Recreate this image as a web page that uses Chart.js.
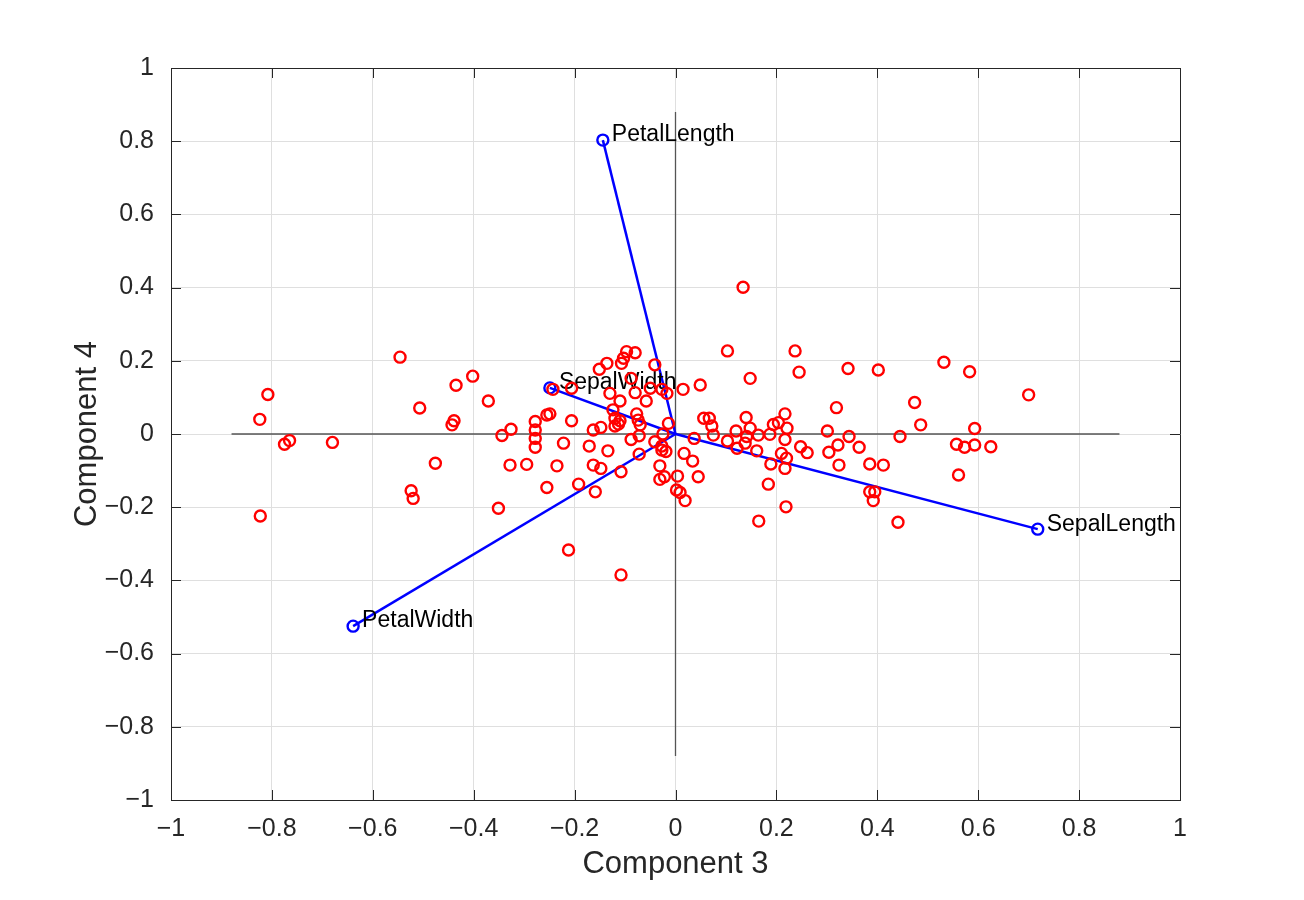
<!DOCTYPE html>
<html>
<head>
<meta charset="utf-8">
<script src="https://cdn.jsdelivr.net/npm/chart.js@4.4.1/dist/chart.umd.min.js"></script>
<style>
  body { margin: 0; background: #fff; }
  #wrap { width: 1304px; height: 900px; }
</style>
</head>
<body>
<div id="wrap"><canvas id="biplot" width="1304" height="900"></canvas></div>
<script>
// Observation scores (Component 3, Component 4)
const comp3 = [
  -0.546, -0.808, -0.824, -0.775, -0.765, -0.680, -0.823, -0.507, -0.435, -0.402,
  -0.371, -0.439, -0.443, -0.476, -0.524, -0.520, -0.351, -0.344, -0.326, -0.328,
  -0.295, -0.255, -0.235, -0.278, -0.278, -0.278, -0.278, -0.255, -0.249, -0.222,
  -0.206, -0.192, -0.212, -0.243, -0.206, -0.159, -0.163, -0.148, -0.171, -0.163,
  -0.148, -0.134, -0.108, -0.108, -0.151, -0.136, -0.107, -0.103, -0.097, -0.080,
  -0.088, -0.130, -0.110, -0.124, -0.120, -0.110, -0.120, -0.113, -0.080, -0.058,
  -0.050, -0.027, -0.041, -0.017, 0.015, -0.077, -0.074, -0.070, -0.088, -0.072,
  -0.072, -0.014, -0.025, -0.041, -0.027, -0.019, -0.027, -0.031, -0.031, -0.022,
  0.004, 0.002, 0.009, 0.019, 0.017, 0.034, 0.037, 0.045, 0.049, 0.134,
  0.103, 0.237, 0.245, 0.148, 0.342, 0.402, 0.319, 0.056, 0.067, 0.072,
  0.075, 0.140, 0.120, 0.103, 0.122, 0.148, 0.141, 0.138, 0.164, 0.161,
  0.187, 0.194, 0.204, 0.217, 0.221, 0.217, 0.210, 0.220, 0.217, 0.189,
  0.184, 0.219, 0.165, 0.248, 0.261, 0.301, 0.304, 0.322, 0.344, 0.324,
  0.364, 0.385, 0.412, 0.385, 0.395, 0.392, 0.441, 0.445, 0.532, 0.583,
  0.700, 0.474, 0.486, 0.593, 0.557, 0.573, 0.593, 0.625, 0.561
];
const comp4 = [
  0.210, 0.108, 0.040, -0.028, -0.018, -0.023, -0.224, 0.071, 0.133, 0.158,
  0.090, 0.036, 0.025, -0.080, -0.155, -0.176, -0.203, -0.004, 0.013, -0.085,
  -0.083, -0.146, -0.087, 0.034, 0.011, -0.012, -0.036, 0.052, 0.055, -0.025,
  0.036, -0.137, -0.317, 0.122, 0.125, -0.158, -0.085, -0.094, -0.033, 0.011,
  0.018, -0.046, -0.103, -0.385, 0.177, 0.193, 0.193, 0.207, 0.225, 0.222,
  0.152, 0.111, 0.090, 0.066, 0.043, 0.036, 0.022, 0.027, 0.113, 0.090,
  0.125, 0.122, 0.189, 0.111, 0.122, 0.055, 0.038, 0.025, -0.015, -0.005,
  -0.055, 0.029, 0.000, -0.021, -0.033, -0.048, -0.044, -0.087, -0.124, -0.117,
  -0.115, -0.153, -0.160, -0.182, -0.053, -0.074, -0.012, -0.117, 0.134, 0.401,
  0.227, 0.227, 0.169, 0.152, 0.179, 0.175, 0.072, 0.043, 0.043, 0.022,
  -0.003, 0.045, 0.008, -0.019, -0.039, 0.016, -0.007, -0.025, -0.003, -0.046,
  -0.001, 0.026, 0.031, 0.055, 0.016, -0.015, -0.053, -0.066, -0.094, -0.082,
  -0.137, -0.199, -0.238, -0.035, -0.051, 0.008, -0.050, -0.030, -0.007, -0.085,
  -0.036, -0.082, -0.085, -0.158, -0.158, -0.182, -0.241, -0.007, 0.196, 0.170,
  0.107, 0.086, 0.025, 0.015, -0.028, -0.036, -0.030, -0.035, -0.112
];

// Variable loadings
const varNames = ['SepalLength', 'SepalWidth', 'PetalLength', 'PetalWidth'];
const loadX = [0.718, -0.249, -0.144, -0.639];
const loadY = [-0.260, 0.126, 0.803, -0.525];

// reach of the black reference axes through the origin
const axisReach = 0.88;

const tickValues = [-1, -0.8, -0.6, -0.4, -0.2, 0, 0.2, 0.4, 0.6, 0.8, 1];

const FONT = '"Liberation Sans", Arial, Helvetica, sans-serif';
Chart.defaults.font.family = FONT;
Chart.defaults.color = '#262626';

const datasets = [];

datasets.push({
  label: 'scores',
  order: 0,
  data: comp3.map((x, i) => ({ x: x, y: comp4[i] })),
  pointStyle: 'circle',
  pointRadius: 5.5,
  pointBorderWidth: 2.4,
  pointBorderColor: '#ff0000',
  pointBackgroundColor: 'rgba(0,0,0,0)',
  showLine: false
});

varNames.forEach((name, i) => {
  datasets.push({
    label: name,
    varName: name,
    order: 1,
    data: [{ x: 0, y: 0 }, { x: loadX[i], y: loadY[i] }],
    showLine: true,
    borderColor: '#0000ff',
    borderWidth: 2.5,
    pointRadius: [0, 5.5],
    pointBorderWidth: 2.4,
    pointBorderColor: '#0000ff',
    pointBackgroundColor: 'rgba(0,0,0,0)'
  });
});

// reference axes
datasets.push({
  label: 'hAxis', order: 2,
  data: [{ x: -axisReach, y: 0 }, { x: axisReach, y: 0 }],
  showLine: true, borderColor: '#555555', borderWidth: 1.3, pointRadius: 0
});
datasets.push({
  label: 'vAxis', order: 2,
  data: [{ x: 0, y: -axisReach }, { x: 0, y: axisReach }],
  showLine: true, borderColor: '#555555', borderWidth: 1.3, pointRadius: 0
});

// names next to the loading vector tips
const varLabels = {
  id: 'varLabels',
  afterDatasetDraw(chart, args) {
    const ds = chart.data.datasets[args.index];
    if (!ds.varName) return;
    const pt = args.meta.data[1];
    const ctx = chart.ctx;
    ctx.save();
    ctx.font = '23px ' + FONT;
    ctx.fillStyle = '#000';
    ctx.textBaseline = 'middle';
    ctx.textAlign = 'left';
    ctx.fillText(ds.varName, pt.x + 9, pt.y - 5);
    ctx.restore();
  }
};

// MATLAB style box with inward ticks on all four sides
const boxTicks = {
  id: 'boxTicks',
  beforeDatasetsDraw(chart) {
    const { ctx, chartArea: a, scales } = chart;
    const len = 10;
    ctx.save();
    ctx.strokeStyle = '#262626';
    ctx.lineWidth = 1;
    ctx.beginPath();
    ctx.rect(a.left + 0.5, a.top + 0.5, a.right - a.left, a.bottom - a.top);
    scales.x.ticks.forEach(t => {
      const px = Math.round(scales.x.getPixelForValue(t.value)) + 0.5;
      ctx.moveTo(px, a.bottom); ctx.lineTo(px, a.bottom - len);
      ctx.moveTo(px, a.top); ctx.lineTo(px, a.top + len);
    });
    scales.y.ticks.forEach(t => {
      const py = Math.round(scales.y.getPixelForValue(t.value)) + 0.5;
      ctx.moveTo(a.left, py); ctx.lineTo(a.left + len, py);
      ctx.moveTo(a.right, py); ctx.lineTo(a.right - len, py);
    });
    ctx.stroke();
    ctx.restore();
  }
};

// MATLAB writes negative ticks with a real minus sign
const fmt = v => String(Math.round(v * 10) / 10).replace('-', '\u2212');

new Chart(document.getElementById('biplot'), {
  type: 'scatter',
  data: { datasets: datasets },
  plugins: [varLabels, boxTicks],
  options: {
    responsive: false,
    animation: false,
    events: [],
    layout: { padding: { top: 68, right: 124, bottom: 0, left: 0 } },
    plugins: { legend: { display: false }, tooltip: { enabled: false } },
    scales: {
      x: {
        type: 'linear', min: -1, max: 1,
        afterBuildTicks: s => { s.ticks = tickValues.map(v => ({ value: v })); },
        afterFit: s => { s.height = 100; },
        grid: { color: '#dfdfdf', lineWidth: 1, drawTicks: false },
        border: { display: true, color: '#262626' },
        ticks: { callback: fmt, font: { size: 25 }, padding: 14, color: '#262626', maxRotation: 0 },
        title: { display: true, text: 'Component 3', font: { size: 31 }, color: '#262626', padding: { top: 0, bottom: 17 } }
      },
      y: {
        type: 'linear', min: -1, max: 1,
        afterBuildTicks: s => { s.ticks = tickValues.map(v => ({ value: v })); },
        afterFit: s => { s.width = 171; },
        grid: { color: '#dfdfdf', lineWidth: 1, drawTicks: false },
        border: { display: true, color: '#262626' },
        ticks: { callback: fmt, font: { size: 25 }, padding: 17, color: '#262626' },
        title: { display: true, text: 'Component 4', font: { size: 31 }, color: '#262626', padding: { top: 69, bottom: 0 } }
      }
    }
  }
});
</script>
</body>
</html>
